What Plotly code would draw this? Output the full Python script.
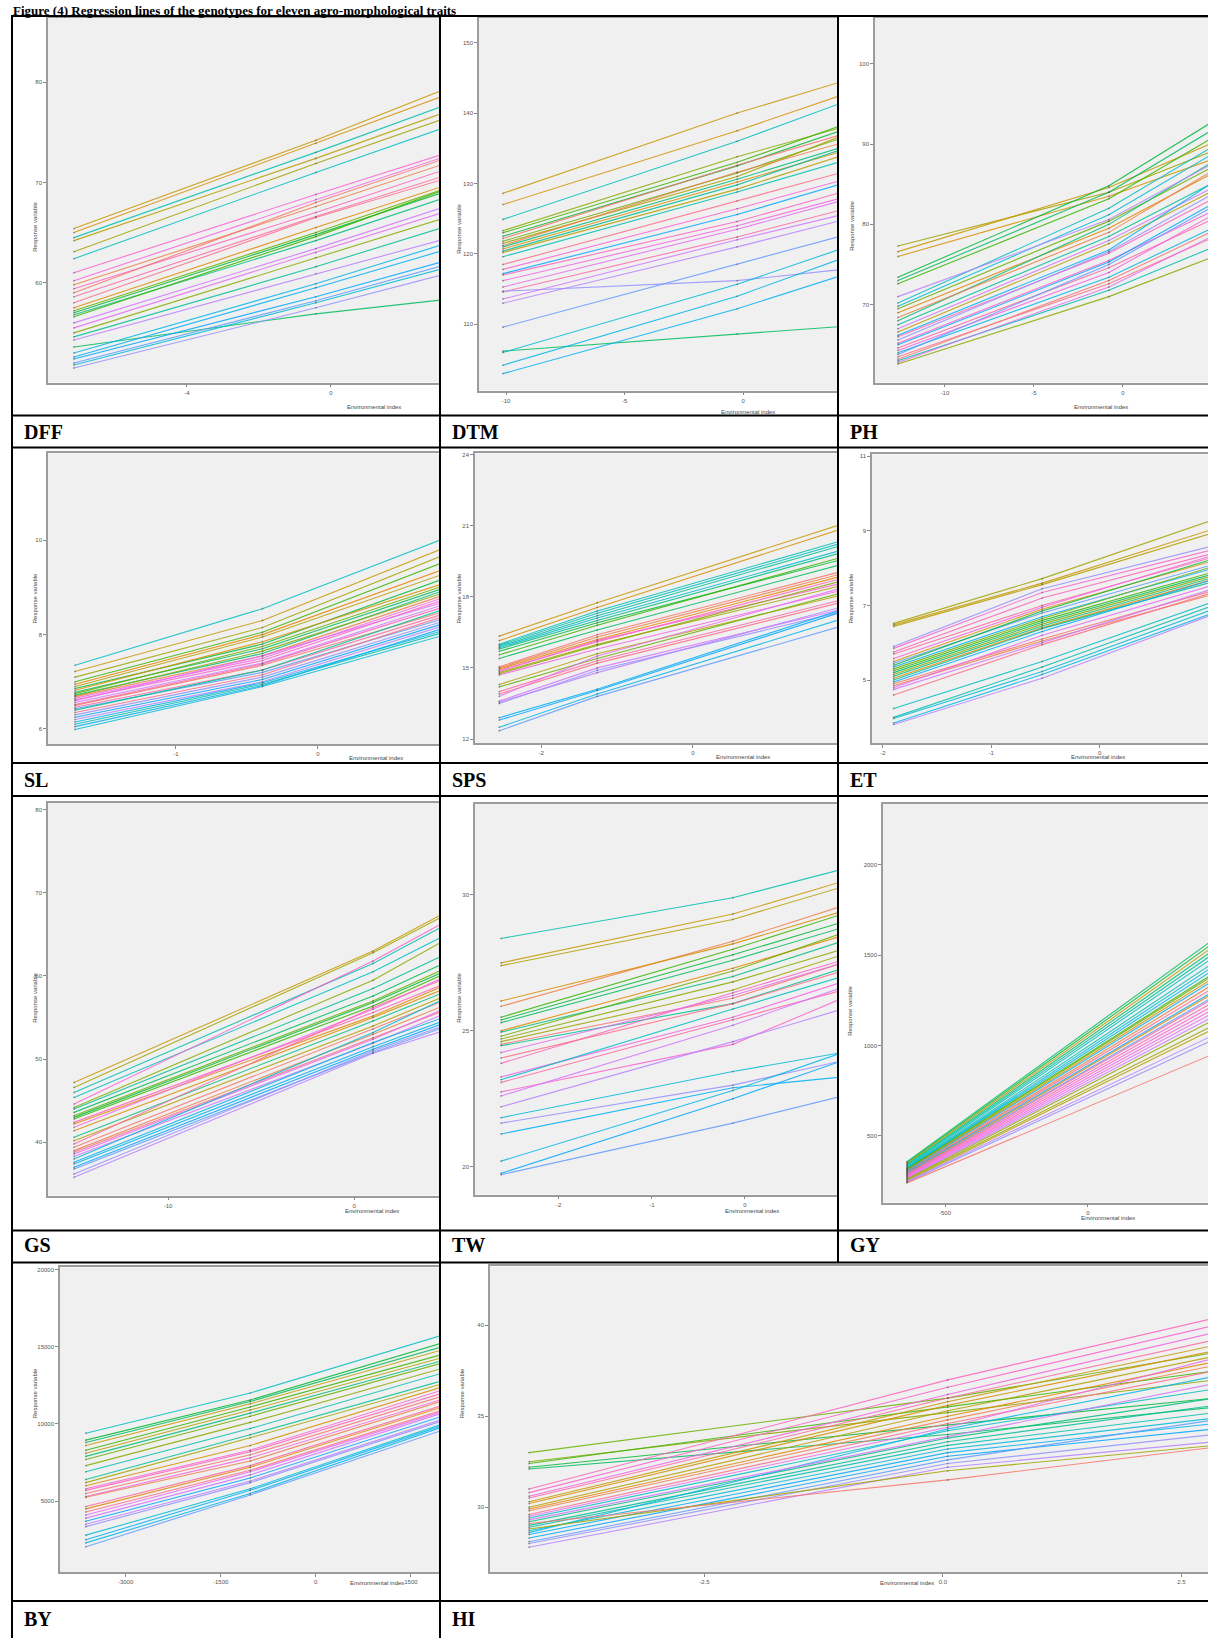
import math
import plotly.graph_objects as go

W, H = 1208, 1638

# ---------------- data ----------------
# each trait: environment index values, genotype id per row, response at each environment
dff_env = [-7.14, -0.42, 3.1]
dff_geno = [5, 4, 15, 6, 7, 16, 27, 26, 2, 28, 1, 29, 30, 3, 9, 11, 13, 10, 24, 25, 8, 14, 23, 12, 18, 19, 20, 21, 17, 22]
dff_e1 = [65.4, 65.0, 64.5, 64.2, 63.1, 62.4, 61.0, 60.2, 59.8, 59.4, 59.0, 58.6, 58.0, 57.5, 57.2, 57.0, 56.8, 56.6, 56.0, 55.5, 55.0, 54.6, 54.3, 53.6, 53.0, 52.6, 52.4, 52.0, 51.8, 51.5]
dff_e2 = [74.2, 73.9, 73.0, 72.4, 71.9, 71.0, 68.8, 68.3, 67.6, 67.0, 68.0, 66.6, 66.5, 65.5, 65.0, 64.8, 64.2, 64.6, 63.4, 63.0, 62.5, 61.6, 60.9, 56.9, 59.9, 59.5, 58.6, 58.2, 58.0, 57.5]
dff_e3 = [79.2, 78.6, 77.6, 76.9, 76.3, 75.4, 72.8, 72.5, 71.8, 71.2, 72.3, 70.6, 70.3, 69.6, 69.3, 69.0, 68.4, 69.2, 67.5, 67.0, 66.4, 65.5, 64.3, 58.3, 63.8, 63.2, 62.1, 61.7, 61.4, 60.8]

dtm_env = [-10.13, -0.25, 4.2]
dtm_geno = [5, 4, 16, 8, 10, 11, 1, 9, 7, 2, 13, 3, 14, 6, 15, 30, 27, 28, 26, 25, 29, 22, 24, 23, 21, 12, 17, 18, 19, 20]
dtm_e1 = [128.6, 127.0, 124.9, 123.3, 123.0, 122.5, 122.2, 121.8, 121.5, 121.2, 121.0, 120.7, 120.4, 120.2, 119.6, 118.5, 117.8, 117.0, 116.2, 115.3, 114.6, 114.7, 113.6, 113.0, 109.6, 106.2, 106.0, 104.2, 103.0, 117.2]
dtm_e2 = [140.0, 137.5, 136.0, 133.8, 133.0, 132.5, 132.6, 131.5, 131.0, 131.6, 130.6, 130.2, 129.8, 129.2, 128.8, 127.5, 126.4, 124.6, 124.0, 123.5, 122.4, 116.2, 122.0, 121.0, 118.5, 108.6, 115.7, 114.0, 112.2, 125.6]
dtm_e3 = [144.5, 142.6, 141.5, 138.0, 138.3, 137.6, 137.0, 136.5, 136.8, 135.8, 135.2, 134.6, 134.9, 134.0, 133.2, 131.6, 130.5, 128.8, 128.0, 127.6, 126.3, 117.8, 125.6, 124.8, 122.6, 109.7, 120.8, 119.4, 117.0, 130.0]

ph_env = [-12.64, -0.79, 4.9]
ph_geno = [7, 5, 4, 11, 12, 10, 16, 17, 9, 3, 13, 14, 24, 6, 28, 22, 27, 20, 29, 26, 18, 21, 30, 1, 15, 25, 8, 19, 2, 23]
ph_e1 = [77.3, 76.6, 76.0, 73.4, 73.0, 72.6, 70.2, 69.8, 69.5, 69.0, 68.0, 67.5, 67.0, 66.6, 66.0, 65.6, 65.2, 65.0, 64.6, 64.3, 64.0, 63.8, 63.5, 63.2, 63.0, 62.8, 62.6, 66.2, 68.4, 71.0]
ph_e2 = [84.0, 84.6, 83.5, 84.8, 84.0, 83.2, 82.0, 81.2, 80.4, 79.5, 80.0, 78.5, 78.0, 77.6, 76.4, 76.6, 75.5, 75.3, 74.6, 74.0, 73.4, 75.0, 72.6, 73.0, 71.8, 72.2, 71.0, 76.8, 79.0, 80.6]
ph_e3 = [89.0, 90.0, 88.0, 92.6, 91.6, 90.6, 89.5, 88.6, 87.0, 86.2, 87.6, 85.0, 84.4, 84.0, 83.0, 83.6, 81.5, 82.4, 80.5, 81.0, 79.4, 82.0, 78.2, 79.0, 77.0, 78.4, 75.8, 85.0, 86.5, 87.4]

sl_env = [-1.71, -0.39, 0.9]
sl_geno = [16, 5, 7, 10, 3, 6, 11, 4, 12, 9, 13, 8, 2, 26, 27, 25, 24, 28, 1, 29, 21, 14, 30, 22, 20, 23, 18, 15, 19, 17]
sl_e1 = [7.35, 7.22, 7.10, 7.00, 6.95, 6.90, 6.86, 6.82, 6.78, 6.75, 6.72, 6.70, 6.68, 6.65, 6.62, 6.60, 6.56, 6.52, 6.50, 6.46, 6.43, 6.40, 6.35, 6.30, 6.25, 6.20, 6.15, 6.10, 6.05, 5.99]
sl_e2 = [8.55, 8.30, 8.15, 8.05, 8.00, 7.95, 7.80, 7.85, 7.70, 7.75, 7.60, 7.65, 7.55, 7.50, 7.45, 7.55, 7.40, 7.38, 7.35, 7.25, 7.20, 7.25, 7.15, 7.10, 7.05, 7.00, 6.98, 6.95, 6.92, 6.90]
sl_e3 = [10.05, 9.85, 9.70, 9.55, 9.40, 9.30, 9.20, 9.10, 9.00, 9.05, 8.95, 8.90, 8.85, 8.80, 8.75, 8.70, 8.65, 8.60, 8.50, 8.45, 8.35, 8.55, 8.40, 8.30, 8.25, 8.20, 8.10, 8.06, 8.15, 8.00]

sps_env = [-2.55, -1.26, 2.0]
sps_geno = [5, 4, 15, 16, 14, 17, 13, 11, 10, 12, 1, 2, 3, 28, 27, 7, 8, 26, 6, 9, 29, 30, 25, 24, 22, 23, 19, 20, 18, 21]
sps_e1 = [16.34, 16.15, 16.00, 15.95, 15.90, 15.85, 15.80, 15.70, 15.55, 15.40, 15.05, 15.00, 14.95, 14.90, 14.85, 14.80, 14.75, 14.70, 14.30, 14.20, 14.00, 13.90, 13.80, 13.60, 13.50, 13.55, 12.90, 12.80, 12.50, 12.35]
sps_e2 = [17.75, 17.55, 17.40, 17.30, 17.20, 17.10, 17.00, 16.90, 16.80, 16.60, 16.40, 16.30, 16.20, 16.10, 16.15, 16.00, 15.95, 15.80, 15.60, 15.40, 15.30, 15.20, 15.50, 15.00, 14.90, 14.80, 14.10, 14.05, 13.90, 13.80]
sps_e3 = [21.1, 20.9, 20.4, 20.3, 20.2, 20.0, 19.9, 19.6, 19.7, 19.4, 19.1, 19.0, 18.9, 18.8, 18.6, 18.5, 18.7, 18.3, 18.1, 18.2, 17.9, 17.8, 18.4, 17.5, 17.4, 17.6, 17.5, 17.4, 17.1, 16.8]

et_env = [-1.90, -0.53, 1.05]
et_geno = [7, 5, 6, 22, 27, 28, 29, 26, 4, 21, 11, 19, 9, 10, 12, 8, 13, 3, 14, 20, 1, 2, 25, 24, 30, 16, 15, 17, 18, 23]
et_e1 = [6.52, 6.48, 6.44, 5.90, 5.85, 5.75, 5.70, 5.58, 5.50, 5.45, 5.40, 5.35, 5.30, 5.25, 5.20, 5.15, 5.10, 5.05, 5.00, 4.95, 4.90, 4.85, 4.80, 4.75, 4.60, 4.24, 4.00, 3.97, 3.85, 3.81]
et_e2 = [7.72, 7.60, 7.56, 7.45, 7.35, 7.20, 7.00, 6.95, 6.90, 6.80, 6.85, 6.70, 6.65, 6.60, 6.55, 6.50, 6.45, 6.40, 6.38, 6.30, 6.10, 6.05, 6.20, 6.00, 5.95, 5.50, 5.35, 5.23, 5.15, 5.05]
et_e3 = [9.30, 9.05, 8.95, 8.60, 8.50, 8.40, 8.30, 8.35, 8.20, 8.10, 8.25, 8.00, 8.05, 7.90, 7.85, 7.80, 7.75, 7.70, 7.64, 7.70, 7.40, 7.30, 7.55, 7.45, 7.35, 7.10, 7.00, 6.90, 6.80, 6.76]

gs_env = [-15.05, 1.02, 4.8]
gs_geno = [5, 7, 15, 16, 27, 8, 14, 12, 9, 11, 10, 28, 3, 26, 4, 13, 6, 29, 1, 2, 30, 25, 24, 17, 18, 19, 20, 21, 22, 23]
gs_e1 = [47.2, 46.6, 46.0, 45.4, 44.6, 44.2, 44.0, 43.6, 43.2, 43.0, 42.8, 42.4, 42.2, 41.8, 41.4, 40.6, 40.2, 39.8, 39.4, 39.0, 38.8, 38.6, 38.3, 38.0, 37.6, 37.4, 37.0, 36.8, 36.2, 35.8]
gs_e2 = [63.0, 62.8, 61.5, 60.5, 61.8, 59.5, 58.5, 57.6, 57.0, 56.8, 56.4, 55.6, 55.2, 56.0, 55.0, 54.6, 54.0, 56.2, 53.6, 53.0, 52.6, 52.4, 51.9, 53.2, 52.0, 51.5, 51.2, 50.8, 51.0, 50.7]
gs_e3 = [67.5, 67.2, 66.0, 64.8, 66.4, 64.2, 62.5, 61.5, 60.8, 60.5, 60.2, 59.0, 58.8, 59.8, 58.4, 58.0, 57.5, 59.6, 57.0, 56.4, 55.8, 56.0, 55.4, 57.2, 55.0, 54.6, 54.3, 53.8, 54.0, 53.4]

tw_env = [-2.62, -0.13, 1.05]
tw_geno = [15, 5, 6, 2, 10, 11, 12, 3, 13, 9, 8, 7, 1, 14, 28, 26, 16, 29, 27, 24, 17, 22, 19, 18, 20, 21, 4, 25, 23, 30]
tw_e1 = [28.4, 27.5, 27.4, 25.9, 25.5, 25.4, 25.3, 25.0, 24.95, 24.8, 24.7, 24.6, 24.5, 24.45, 23.8, 23.3, 23.2, 23.1, 22.75, 22.6, 21.8, 21.6, 21.2, 20.2, 19.75, 19.7, 26.1, 24.2, 22.2, 24.0]
tw_e2 = [29.9, 29.3, 29.1, 28.3, 28.0, 27.8, 27.6, 27.3, 27.0, 27.2, 26.8, 26.5, 26.2, 26.0, 26.4, 25.5, 25.8, 25.4, 24.5, 25.2, 23.5, 23.0, 22.9, 22.8, 22.5, 21.6, 28.2, 26.3, 24.6, 26.0]
tw_e3 = [30.95, 30.5, 30.3, 29.6, 29.3, 29.0, 28.8, 28.5, 28.3, 28.6, 28.0, 27.8, 27.5, 27.3, 27.6, 26.8, 27.0, 26.5, 26.2, 26.6, 24.2, 23.9, 23.3, 24.2, 23.9, 22.6, 29.4, 27.5, 25.8, 27.2]

gy_env = [-633, 450]
gy_geno = [12, 11, 5, 13, 14, 16, 15, 17, 18, 10, 9, 4, 19, 2, 30, 20, 3, 21, 29, 28, 27, 26, 25, 24, 8, 7, 6, 23, 22, 1]
gy_e1 = [355, 350, 345, 340, 335, 330, 325, 320, 318, 315, 312, 308, 305, 300, 298, 295, 290, 287, 284, 280, 276, 272, 268, 264, 260, 255, 250, 246, 242, 238]
gy_e2 = [1600, 1580, 1560, 1540, 1520, 1500, 1470, 1450, 1430, 1410, 1400, 1385, 1370, 1350, 1330, 1310, 1300, 1280, 1270, 1250, 1230, 1210, 1190, 1170, 1150, 1120, 1100, 1065, 1040, 960]

by_env = [-3627, -1034, 2000]
by_geno = [16, 11, 12, 5, 10, 6, 13, 9, 15, 14, 7, 27, 28, 1, 26, 2, 29, 3, 30, 24, 20, 23, 22, 19, 18, 21, 4, 8, 25, 17]
by_e1 = [9400, 8950, 8800, 8600, 8300, 8100, 7900, 7700, 6900, 6400, 6200, 5800, 5700, 5500, 5300, 5250, 4650, 4500, 4300, 3900, 3700, 3500, 3350, 2500, 2300, 2050, 6000, 7300, 4100, 2800]
by_e2 = [12000, 11550, 11450, 11300, 11100, 10900, 10700, 10500, 9700, 9300, 9100, 8300, 8200, 8000, 7800, 7600, 7300, 7200, 7000, 6700, 6500, 6300, 6200, 5700, 5500, 5400, 8600, 10100, 6900, 5800]
by_e3 = [15750, 15250, 15000, 14800, 14500, 14300, 14100, 13950, 13300, 12800, 12600, 12200, 12000, 11800, 11600, 11500, 11200, 11100, 10900, 10700, 10500, 10300, 10200, 9900, 9800, 9600, 12400, 13600, 10800, 10000]

hi_env = [-4.34, 0.05, 2.85]
hi_geno = [9, 8, 10, 11, 12, 28, 27, 26, 29, 5, 4, 6, 3, 2, 30, 25, 16, 13, 14, 15, 17, 18, 19, 20, 21, 22, 23, 24, 7, 1]
hi_e1 = [33.0, 32.5, 32.4, 32.2, 32.1, 31.0, 30.8, 30.6, 30.5, 30.3, 30.2, 30.0, 29.9, 29.8, 29.6, 29.5, 29.4, 29.2, 29.0, 28.9, 28.7, 28.6, 28.5, 28.3, 28.1, 28.0, 27.8, 29.3, 28.8, 29.1]
hi_e2 = [36.0, 35.2, 35.5, 34.5, 34.0, 37.0, 36.6, 36.2, 36.0, 35.8, 35.6, 35.3, 35.0, 34.8, 34.6, 34.4, 34.2, 33.8, 33.6, 33.4, 33.2, 34.3, 33.0, 32.8, 32.6, 32.4, 32.2, 33.9, 32.0, 31.5]
hi_e3 = [38.5, 37.0, 37.5, 36.0, 35.5, 40.4, 40.0, 39.6, 39.2, 38.9, 38.6, 38.3, 38.0, 37.8, 37.5, 38.2, 36.5, 36.0, 35.6, 35.2, 34.9, 37.2, 34.6, 34.3, 34.8, 34.0, 33.6, 36.8, 33.4, 33.3]

trait_names = ["DFF", "DTM", "PH", "SL", "SPS", "ET", "GS", "TW", "GY", "BY", "HI"]
x_title = "Environmental index"
y_title = "Response variable"
fig_title = "Figure (4) Regression lines of the genotypes for eleven agro-morphological traits"


# ---------------- style helpers ----------------
def hcl_to_hex(h, c=100.0, l=65.0):
    hr = math.radians(h)
    u, v = c * math.cos(hr), c * math.sin(hr)
    Xn, Yn, Zn = 95.047, 100.0, 108.883
    un = 4 * Xn / (Xn + 15 * Yn + 3 * Zn)
    vn = 9 * Yn / (Xn + 15 * Yn + 3 * Zn)
    Y = Yn * ((l + 16) / 116) ** 3
    up = u / (13 * l) + un
    vp = v / (13 * l) + vn
    X = Y * 9 * up / (4 * vp)
    Z = Y * (12 - 3 * up - 20 * vp) / (4 * vp)
    X, Y, Z = X / 100, Y / 100, Z / 100
    r = 3.2404542 * X - 1.5371385 * Y - 0.4985314 * Z
    g = -0.9692660 * X + 1.8760108 * Y + 0.0415560 * Z
    b = 0.0556434 * X - 0.2040259 * Y + 1.0572252 * Z

    def gam(t):
        t = 12.92 * t if t <= 0.0031308 else 1.055 * t ** (1 / 2.4) - 0.055
        return max(0, min(255, int(round(t * 255))))
    return "#%02X%02X%02X" % (gam(r), gam(g), gam(b))


n_geno = 30
palette = [hcl_to_hex(15 + 360 * i / n_geno) for i in range(n_geno)]


def px_x(p):
    return p / W


def px_y(p):
    return 1 - p / H


# panel geometry in pixels: plot area (left, right, top, bottom)
panels = [
    dict(env=dff_env, geno=dff_geno, vals=[dff_e1, dff_e2, dff_e3], box=(48, 440, 16, 381),
         xr=[-7.86, 3.03], yr=[50.05, 86.4], xt=[-4, 0], yt=[60, 70, 80],
         xtit=(345, 400), ytit=(30, 198), lab=(22, 431)),
    dict(env=dtm_env, geno=dtm_geno, vals=[dtm_e1, dtm_e2, dtm_e3], box=(479, 838, 16, 389),
         xr=[-11.14, 4.0], yr=[100.6, 153.5], xt=[-10, -5, 0], yt=[110, 120, 130, 140, 150],
         xtit=(748, 405), ytit=(459, 200), lab=(450, 431)),
    dict(env=ph_env, geno=ph_geno, vals=[ph_e1, ph_e2, ph_e3], box=(875, 1208, 16, 381),
         xr=[-13.93, 4.78], yr=[60.3, 105.7], xt=[-10, -5, 0], yt=[70, 80, 90, 100],
         xtit=(1130, 400), ytit=(857, 197), lab=(848, 431)),
    dict(env=sl_env, geno=sl_geno, vals=[sl_e1, sl_e2, sl_e3], box=(48, 440, 452, 743),
         xr=[-1.90, 0.86], yr=[5.68, 11.84], xt=[-1, 0], yt=[6, 8, 10],
         xtit=(347, 757), ytit=(30, 597), lab=(22, 779)),
    dict(env=sps_env, geno=sps_geno, vals=[sps_e1, sps_e2, sps_e3], box=(475, 838, 452, 742),
         xr=[-2.87, 1.91], yr=[11.83, 24.04], xt=[-2, 0], yt=[12, 15, 18, 21, 24],
         xtit=(743, 756), ytit=(459, 597), lab=(450, 779)),
    dict(env=et_env, geno=et_geno, vals=[et_e1, et_e2, et_e3], box=(872, 1208, 453, 742),
         xr=[-2.10, 1.0], yr=[3.31, 11.05], xt=[-2, -1, 0], yt=[5, 7, 9, 11],
         xtit=(1127, 756), ytit=(856, 597), lab=(848, 779)),
    dict(env=gs_env, geno=gs_geno, vals=[gs_e1, gs_e2, gs_e3], box=(48, 440, 802, 1195),
         xr=[-16.45, 4.62], yr=[33.6, 80.8], xt=[-10, 0], yt=[40, 50, 60, 70, 80],
         xtit=(343, 1215), ytit=(30, 997), lab=(22, 1245)),
    dict(env=tw_env, geno=tw_geno, vals=[tw_e1, tw_e2, tw_e3], box=(475, 838, 803, 1194),
         xr=[-2.90, 1.0], yr=[18.97, 33.35], xt=[-2, -1, 0], yt=[20, 25, 30],
         xtit=(752, 1215), ytit=(459, 997), lab=(450, 1245)),
    dict(env=gy_env, geno=gy_geno, vals=[gy_e1, gy_e2], box=(883, 1208, 803, 1202),
         xr=[-717, 420], yr=[129, 2338], xt=[-500, 0], yt=[500, 1000, 1500, 2000],
         xtit=(1137, 1222), ytit=(855, 1010), lab=(848, 1245)),
    dict(env=by_env, geno=by_geno, vals=[by_e1, by_e2, by_e3], box=(60, 440, 1267, 1572),
         xr=[-4034, 1959], yr=[408, 20130], xt=[-3000, -1500, 0, 1500], yt=[5000, 10000, 15000, 20000],
         xtit=(348, 1588), ytit=(30, 1420), lab=(22, 1619)),
    dict(env=hi_env, geno=hi_geno, vals=[hi_e1, hi_e2, hi_e3], box=(490, 1208, 1266, 1572),
         xr=[-4.75, 2.78], yr=[26.43, 43.24], xt=[-2.5, 0, 2.5], yt=[30, 35, 40],
         xtit=(936, 1588), ytit=(462, 1420), lab=(450, 1619)),
]

fig = go.Figure()
annotations = []
shapes = []
frame_col = "#9C9C9C"
tick_font = dict(family="Liberation Sans", size=6, color="#555555")

for i, p in enumerate(panels):
    k = "" if i == 0 else str(i + 1)
    xa, ya = "x" + k, "y" + k
    env = p["env"]
    n = len(p["geno"])
    # regression lines, one per genotype
    for r in range(n):
        g = p["geno"][r]
        ys = [col[r] for col in p["vals"]]
        fig.add_trace(go.Scatter(
            x=env, y=ys, mode="lines", xaxis=xa, yaxis=ya,
            line=dict(color=palette[g - 1], width=1.1), opacity=0.85,
            showlegend=False, hoverinfo="skip"))
    # observed points at each environment
    px_, py_ = [], []
    for col, e in zip(p["vals"], env):
        px_ += [e] * n
        py_ += list(col)
    fig.add_trace(go.Scatter(
        x=px_, y=py_, mode="markers", xaxis=xa, yaxis=ya,
        marker=dict(color="#444444", size=1.8, opacity=0.5),
        showlegend=False, hoverinfo="skip"))

    x0, x1, y0, y1 = p["box"]
    xlab = [("%.1f" % v) for v in p["xt"]] if i == 10 else [str(v) for v in p["xt"]]
    ylab = [str(v) for v in p["yt"]]
    fig.update_layout(**{
        ("xaxis" + k): dict(domain=[px_x(x0), px_x(x1)], range=p["xr"], anchor=ya,
                            tickvals=p["xt"], ticktext=xlab, showgrid=False, zeroline=False,
                            showline=True, mirror=True, linecolor=frame_col, linewidth=1.6,
                            ticks="outside", ticklen=3, tickcolor="#888888", tickfont=tick_font),
        ("yaxis" + k): dict(domain=[px_y(y1), px_y(y0)], range=p["yr"], anchor=xa,
                            tickvals=p["yt"], ticktext=ylab, showgrid=False, zeroline=False,
                            showline=True, mirror=False, linecolor=frame_col, linewidth=1.6,
                            ticks="outside", ticklen=3, tickcolor="#888888", tickfont=tick_font),
    })
    annotations.append(dict(text=x_title, x=px_x(p["xtit"][0]), y=px_y(p["xtit"][1]),
                            xref="paper", yref="paper", showarrow=False,
                            font=dict(family="Liberation Sans", size=6, color="#444444")))
    annotations.append(dict(text=y_title, x=px_x(p["ytit"][0]), y=px_y(p["ytit"][1]),
                            xref="paper", yref="paper", showarrow=False, textangle=-90,
                            font=dict(family="Liberation Sans", size=6, color="#444444")))
    annotations.append(dict(text="<b>%s</b>" % trait_names[i], x=px_x(p["lab"][0]), y=px_y(p["lab"][1]),
                            xref="paper", yref="paper", showarrow=False, xanchor="left", yanchor="middle",
                            font=dict(family="Liberation Serif", size=20, color="#000000")))

# table borders
def hline(y, xa_, xb_):
    shapes.append(dict(type="line", xref="paper", yref="paper", x0=px_x(xa_), x1=px_x(xb_),
                       y0=px_y(y), y1=px_y(y), line=dict(color="#000000", width=2)))


def vline(x, ya_, yb_):
    shapes.append(dict(type="line", xref="paper", yref="paper", x0=px_x(x), x1=px_x(x),
                       y0=px_y(ya_), y1=px_y(yb_), line=dict(color="#000000", width=2)))


for yy in [14, 414, 446, 762, 795, 1230, 1262, 1601]:
    hline(yy, 11, 1210)
vline(12, 13, 1640)
vline(440, 13, 1640)
vline(838, 13, 1262)

annotations.append(dict(text="<b>%s</b>" % fig_title, x=px_x(12), y=px_y(0), xref="paper", yref="paper",
                        showarrow=False, xanchor="left", yanchor="top", borderpad=0,
                        font=dict(family="Liberation Serif", size=13, color="#000000")))

fig.update_layout(
    width=W, height=H, margin=dict(l=0, r=0, t=0, b=0),
    paper_bgcolor="#FFFFFF", plot_bgcolor="#F0F0F0",
    showlegend=False, annotations=annotations, shapes=shapes,
)

fig.write_html("out.html")
